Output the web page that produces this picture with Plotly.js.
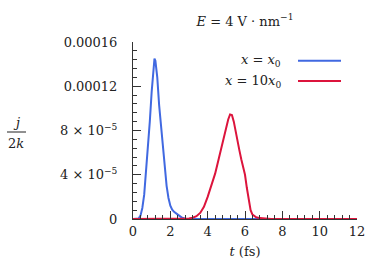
<!DOCTYPE html>
<html>
<head>
<meta charset="utf-8">
<script src="https://cdn.plot.ly/plotly-3.0.1.min.js"></script>
<style>html,body{margin:0;padding:0;background:#fff;}#chart{width:382px;height:269px;}</style>
</head>
<body>
<div id="chart"></div>
<script>
// Series: x = x0 (blue)
const tBlue = [0, 0.2, 0.3, 0.4, 0.5, 0.6, 0.7, 0.8, 0.9, 1.0, 1.1, 1.15, 1.2, 1.3, 1.4, 1.5, 1.6, 1.7, 1.8, 1.9, 2.0, 2.1, 2.2, 2.4, 2.6, 2.8, 3.0, 4, 6, 8, 10, 12];
const jBlue = [0, 0, 0.05e-5, 0.3e-5, 1.0e-5, 2.2e-5, 4.2e-5, 6.5e-5, 8.8e-5, 11.5e-5, 14.1e-5, 14.5e-5, 14.3e-5, 12.8e-5, 10.3e-5, 8.3e-5, 6.2e-5, 4.5e-5, 3.0e-5, 1.9e-5, 1.2e-5, 0.85e-5, 0.65e-5, 0.4e-5, 0.15e-5, 0.02e-5, 0, 0, 0, 0, 0, 0];
// Series: x = 10 x0 (red)
const tRed = [0, 2, 2.8, 3.0, 3.2, 3.4, 3.6, 3.8, 4.0, 4.2, 4.4, 4.6, 4.8, 5.0, 5.1, 5.2, 5.3, 5.4, 5.5, 5.6, 5.7, 5.8, 5.9, 6.0, 6.1, 6.2, 6.3, 6.4, 6.6, 6.8, 7.0, 7.4, 8, 10, 12];
const jRed = [0, 0, 0, 0.05e-5, 0.12e-5, 0.25e-5, 0.55e-5, 1.1e-5, 2.0e-5, 3.0e-5, 4.1e-5, 5.5e-5, 7.0e-5, 8.4e-5, 9.0e-5, 9.45e-5, 9.4e-5, 8.8e-5, 7.8e-5, 7.0e-5, 6.2e-5, 5.4e-5, 4.7e-5, 4.0e-5, 2.8e-5, 1.6e-5, 0.8e-5, 0.4e-5, 0.15e-5, 0.08e-5, 0.04e-5, 0.01e-5, 0, 0, 0];
// Ticks
const yTickVals = [0, 4e-5, 8e-5, 12e-5, 16e-5];
const yTickText = ['0', '4 × 10<sup>−5</sup>', '8 × 10<sup>−5</sup>', '0.00012', '0.00016'];
const xTickVals = [0, 2, 4, 6, 8, 10, 12];
const xTickText = ['0', '2', '4', '6', '8', '10', '12'];
const seriesNames = ['<i>x</i> = <i>x</i><sub>0</sub>', '<i>x</i> = 10<i>x</i><sub>0</sub>'];
const colors = ['#4169E1', '#DC143C'];

const font = "DejaVu Serif";
const ink = '#222';
const fs = 13;

const traces = [
  {x: tBlue, y: jBlue, mode: 'lines', name: seriesNames[0], line: {color: colors[0], width: 2}, showlegend: false},
  {x: tRed, y: jRed, mode: 'lines', name: seriesNames[1], line: {color: colors[1], width: 2}, showlegend: false}
];

const layout = {
  width: 382, height: 269,
  margin: {l: 133, r: 25, t: 42, b: 50},
  paper_bgcolor: '#fff', plot_bgcolor: '#fff',
  font: {family: font, size: fs, color: ink},
  title: {text: '<i>E</i> = 4 V · nm<sup>−1</sup>', font: {family: font, size: fs, color: ink},
          x: 0.5, xref: 'paper', xanchor: 'center', y: 1 - 21/269, yref: 'container', yanchor: 'middle'},
  xaxis: {range: [0, 12], tickmode: 'array', tickvals: xTickVals, ticktext: xTickText,
          ticks: 'inside', ticklen: 8, tickwidth: 1, tickcolor: '#333',
          showline: true, linecolor: '#333', linewidth: 1, showgrid: false, zeroline: false,
          minor: {tickmode: 'linear', tick0: 0, dtick: 0.4, ticks: 'inside', ticklen: 4, tickcolor: '#333', showgrid: false},
          tickfont: {family: font, size: fs, color: ink},
          title: {text: '<i>t</i> (fs)', font: {family: font, size: fs, color: ink}, standoff: 9}},
  yaxis: {range: [0, 16e-5], tickmode: 'array', tickvals: yTickVals, ticktext: yTickText,
          ticks: 'inside', ticklen: 8, tickwidth: 1, tickcolor: '#333',
          showline: true, linecolor: '#333', linewidth: 1, showgrid: false, zeroline: false,
          minor: {tickmode: 'linear', tick0: 0, dtick: 8e-6, ticks: 'inside', ticklen: 4, tickcolor: '#333', showgrid: false},
          tickfont: {family: font, size: fs, color: ink}, ticklabelstandoff: 12},
  annotations: [
    {text: seriesNames[0], xref: 'paper', yref: 'paper', x: 0.670, y: (219 - 60.7)/177, xanchor: 'right', yanchor: 'middle', showarrow: false, font: {family: font, size: fs, color: ink}},
    {text: seriesNames[1], xref: 'paper', yref: 'paper', x: 0.670, y: (219 - 81)/177, xanchor: 'right', yanchor: 'middle', showarrow: false, font: {family: font, size: fs, color: ink}},
    {text: '<i>j</i>', xref: 'paper', yref: 'paper', x: (16 - 133)/224, y: (219 - 122)/177, xanchor: 'center', yanchor: 'middle', showarrow: false, font: {family: font, size: fs, color: ink}},
    {text: '2<i>k</i>', xref: 'paper', yref: 'paper', x: (16 - 133)/224, y: (219 - 143)/177, xanchor: 'center', yanchor: 'middle', showarrow: false, font: {family: font, size: fs, color: ink}}
  ],
  shapes: [
    {type: 'line', xref: 'paper', yref: 'paper', x0: (298 - 133)/224, x1: (341 - 133)/224, y0: (219 - 60.7)/177, y1: (219 - 60.7)/177, line: {color: colors[0], width: 2}},
    {type: 'line', xref: 'paper', yref: 'paper', x0: (298 - 133)/224, x1: (341 - 133)/224, y0: (219 - 81)/177, y1: (219 - 81)/177, line: {color: colors[1], width: 2}},
    {type: 'line', xref: 'paper', yref: 'paper', x0: (7 - 133)/224, x1: (26 - 133)/224, y0: (219 - 132)/177, y1: (219 - 132)/177, line: {color: ink, width: 1}}
  ]
};

Plotly.newPlot('chart', traces, layout, {staticPlot: true, displayModeBar: false});
</script>
</body>
</html>
